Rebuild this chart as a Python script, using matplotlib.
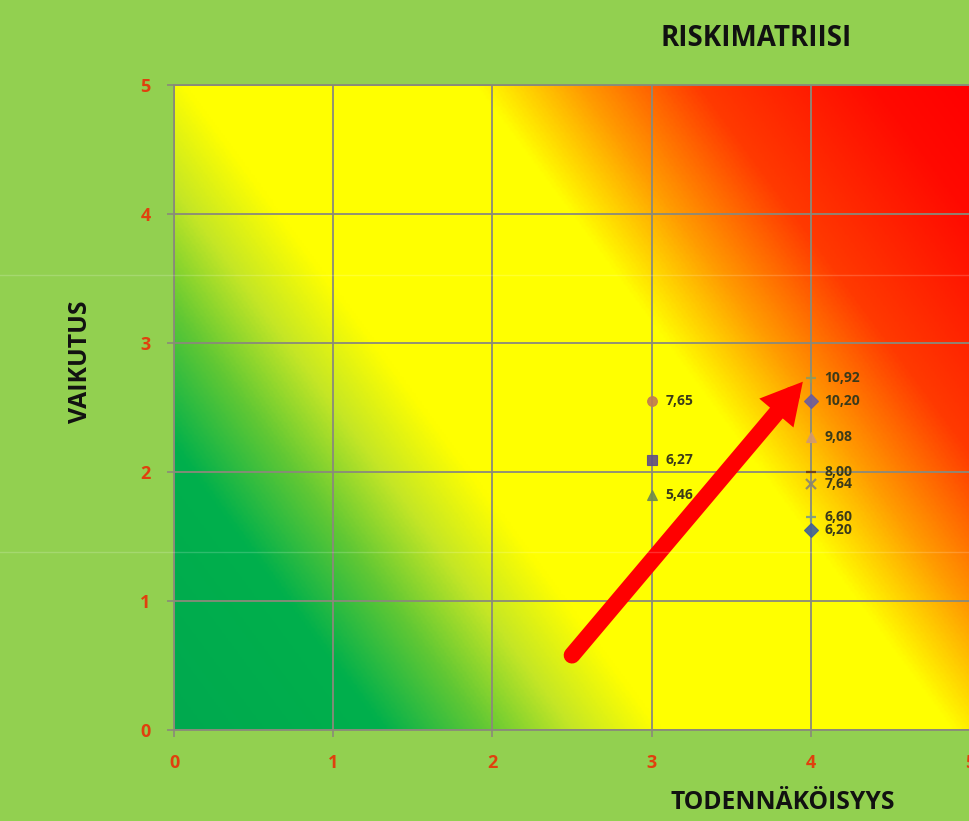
import numpy as np
import matplotlib
matplotlib.use("Agg")
import matplotlib.pyplot as plt
from matplotlib.colors import LinearSegmentedColormap
from matplotlib.lines import Line2D

# risk points: probability (x), impact (y), marker, colour
prob = [3, 3, 3, 4, 4, 4, 4, 4, 4, 4]
impact = [2.55, 2.09, 1.82, 2.73, 2.55, 2.27, 2.00, 1.91, 1.65, 1.55]
scores = [7.65, 6.27, 5.46, 10.92, 10.20, 9.08, 8.00, 7.64, 6.60, 6.20]
markers = ["o", "s", "^", "+", "D", "^", "_", "x", "+", "D"]
mcolors = ["#c07a52", "#5e4e86", "#6f8a4e", "#8f9a60", "#6a5c9e",
           "#d39a6e", "#6a3a1a", "#8a8570", "#7a9a8a", "#3f5f9a"]
ticks = [0, 1, 2, 3, 4, 5]

bg = "#92d050"
tick_red = "#e0400e"
plt.rcParams["font.family"] = ["Open Sans", "DejaVu Sans"]

fig = plt.figure(figsize=(9.7, 8.21), dpi=100, facecolor=bg)
ax = fig.add_axes([0.1794, 0.1108, 0.8206, 0.7857])
ax.set_facecolor(bg)

# diagonal heat gradient (green -> yellow -> red)
gx, gy = np.meshgrid(np.linspace(0, 5, 400), np.linspace(0, 5, 400))
s = (gx + 0.6 * gy) / 8.0
cmap = LinearSegmentedColormap.from_list("risk", [
    (0.0, "#00a94f"), (1.3 / 8, "#00b04c"), (1.95 / 8, "#62c834"),
    (2.5 / 8, "#c4e626"), (3.05 / 8, "#ffff00"), (4.9 / 8, "#ffff00"),
    (5.55 / 8, "#ff9c00"), (6.3 / 8, "#ff3a00"), (7.4 / 8, "#ff0a00"),
    (1.0, "#ff0000")])
ax.imshow(s, extent=[0, 5, 0, 5], origin="lower", aspect="auto",
          cmap=cmap, vmin=0, vmax=1, zorder=0, interpolation="bilinear")

ax.set_xlim(0, 5)
ax.set_ylim(0, 5)
ax.set_xticks(ticks)
ax.set_yticks(ticks)
ax.grid(True, color="#8a8a7a", lw=1.3, zorder=1)
for sp in ax.spines.values():
    sp.set_color("#8a8a7a")
    sp.set_linewidth(1.3)
ax.tick_params(colors="#8a8a7a", length=5, width=1.2, pad=12)
for lab in ax.get_xticklabels() + ax.get_yticklabels():
    lab.set_color(tick_red)
    lab.set_fontweight("bold")
    lab.set_fontsize(13)

for x, y, sc, m, c in zip(prob, impact, scores, markers, mcolors):
    lw = 1.6 if m in ["+", "x", "_"] else 0.8
    ax.plot(x, y, marker=m, color=c, ms=7, mew=lw, ls="none", alpha=0.9, zorder=3)
    ax.annotate(f"{sc:.2f}".replace(".", ","), (x, y), xytext=(10, 0),
                textcoords="offset points", va="center", ha="left",
                fontsize=10, fontweight="bold", color="#3a3a1a", zorder=4)

# red arrow pointing to the highest scores
ax.annotate("", xy=(3.95, 2.70), xytext=(2.50, 0.58),
            arrowprops=dict(arrowstyle="-|>,head_length=1.1,head_width=0.6",
                            color="#ff0000", lw=12, shrinkA=0, shrinkB=0,
                            capstyle="round", joinstyle="miter"),
            zorder=5)

fig.text(0.780, 0.953, "RISKIMATRIISI", ha="center", va="center",
         fontsize=20, fontweight="bold", color="#111111")
fig.text(0.807, 0.022, "TODENNÄKÖISYYS", ha="center", va="center",
         fontsize=17.7, fontweight="bold", color="#111111")
fig.text(0.083, 0.559, "VAIKUTUS", ha="center", va="center", rotation=90,
         fontsize=17.8, fontweight="bold", color="#111111")

# faint scan lines across the picture
for yf in [1 - 275 / 821, 1 - 552 / 821]:
    fig.add_artist(Line2D([0, 1], [yf, yf], transform=fig.transFigure,
                          color="white", alpha=0.18, lw=1, zorder=10))

fig.savefig("out.png", dpi=100, facecolor=bg)
